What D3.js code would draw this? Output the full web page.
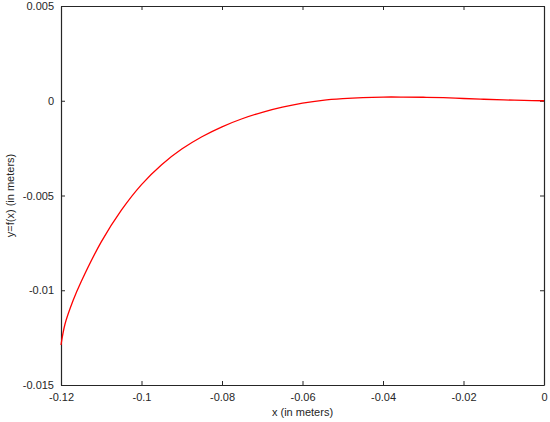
<!DOCTYPE html>
<html><head><meta charset="utf-8">
<script src="https://cdn.jsdelivr.net/npm/d3@7"></script>
<style>body{margin:0;background:#fff;} svg{display:block;}</style>
</head><body>
<svg id="c" width="550" height="422"></svg>
<script>
const xValues = [-0.12, -0.119, -0.117, -0.115, -0.110, -0.105, -0.100, -0.095, -0.090, -0.085, -0.080, -0.075, -0.070, -0.065, -0.060, -0.055, -0.050, -0.045, -0.040, -0.035, -0.030, -0.025, -0.020, -0.015, -0.010, -0.005, 0];
const yValues = [-0.01289, -0.01178, -0.01054, -0.00955, -0.00745, -0.005775, -0.004425, -0.003375, -0.00255, -0.00190, -0.001375, -0.00095, -0.00061, -0.00034, -0.00013, 0.000025, 0.000115, 0.00017, 0.000195, 0.000195, 0.000185, 0.00016, 0.00012, 0.00008, 0.000045, 0.00002, 0.0];
const xTicks = [-0.12, -0.1, -0.08, -0.06, -0.04, -0.02, 0];
const yTicks = [0.005, 0, -0.005, -0.01, -0.015];
const xTickLabels = ["-0.12", "-0.1", "-0.08", "-0.06", "-0.04", "-0.02", "0"];
const yTickLabels = ["0.005", "0", "-0.005", "-0.01", "-0.015"];
const xLabel = "x (in meters)";
const yLabel = "y=f(x) (in meters)";

const L = 61, R = 544, T = 6, B = 385;
const svg = d3.select("#c");
const x = d3.scaleLinear().domain([-0.12, 0]).range([L, R]);
const y = d3.scaleLinear().domain([-0.015, 0.005]).range([B, T]);
const axisColor = "#262626";
const font = "'Liberation Sans', Arial, sans-serif";

function styleAxis(g) {
  g.selectAll("path.domain").attr("stroke", axisColor).attr("stroke-width", 1.2);
  g.selectAll(".tick line").attr("stroke", axisColor).attr("stroke-width", 1);
  g.selectAll(".tick text").attr("fill", axisColor).style("font-family", font).style("font-size", "11px");
}

const xb = svg.append("g").attr("transform", `translate(0,${B})`)
  .call(d3.axisBottom(x).tickValues(xTicks).tickSizeInner(-4).tickSizeOuter(0).tickPadding(8)
    .tickFormat((d, i) => xTickLabels[i]));
styleAxis(xb);
const xt = svg.append("g").attr("transform", `translate(0,${T})`)
  .call(d3.axisTop(x).tickValues(xTicks).tickSizeInner(-4).tickSizeOuter(0).tickFormat(""));
styleAxis(xt);
const yl = svg.append("g").attr("transform", `translate(${L},0)`)
  .call(d3.axisLeft(y).tickValues(yTicks).tickSizeInner(-4).tickSizeOuter(0).tickPadding(7)
    .tickFormat((d, i) => yTickLabels[i]));
styleAxis(yl);
const yr = svg.append("g").attr("transform", `translate(${R},0)`)
  .call(d3.axisRight(y).tickValues(yTicks).tickSizeInner(-4).tickSizeOuter(0).tickFormat(""));
styleAxis(yr);

const pts = xValues.map((v, i) => [v, yValues[i]]);
svg.append("path").datum(pts)
  .attr("fill", "none").attr("stroke", "#ff0000").attr("stroke-width", 1.3)
  .attr("d", d3.line().x(d => x(d[0])).y(d => y(d[1])).curve(d3.curveCatmullRom.alpha(0.5)));

svg.append("text").attr("x", (L + R) / 2).attr("y", 416).attr("text-anchor", "middle")
  .attr("fill", axisColor).style("font-family", font).style("font-size", "11px").text(xLabel);
svg.append("text").attr("transform", `translate(14,${(T + B) / 2}) rotate(-90)`).attr("text-anchor", "middle")
  .attr("fill", axisColor).style("font-family", font).style("font-size", "11px").text(yLabel);
</script>
</body></html>
